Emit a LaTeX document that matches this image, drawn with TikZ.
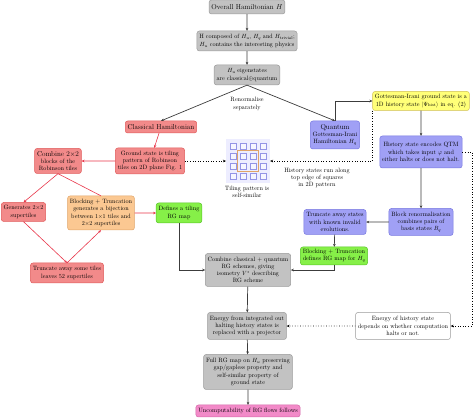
\documentclass[tikz,border=0pt]{standalone}
\usetikzlibrary{arrows.meta,positioning,calc}
\definecolor{gfill}{HTML}{C2C2C2}\definecolor{gdraw}{HTML}{9A9A9A}
\definecolor{rfill}{HTML}{F28A8A}\definecolor{rdraw}{HTML}{E05A5A}
\definecolor{bfill}{HTML}{A0A0F5}\definecolor{bdraw}{HTML}{7878E0}
\definecolor{yfill}{HTML}{FFFF78}\definecolor{ydraw}{HTML}{D0C050}
\definecolor{ofill}{HTML}{FBC892}\definecolor{odraw}{HTML}{E0A468}
\definecolor{lfill}{HTML}{86F048}\definecolor{ldraw}{HTML}{58C428}
\definecolor{pfill}{HTML}{F28AC8}\definecolor{pdraw}{HTML}{D468A8}
\definecolor{rline}{HTML}{E8364A}
\definecolor{dline}{HTML}{3C3C3C}
\tikzset{
  box/.style={rounded corners=2.5pt, align=center, inner xsep=4pt, inner ysep=2pt, line width=0.5pt, font=\fontsize{10.3}{12.1}\selectfont},
  graybox/.style={box, fill=gfill, draw=gdraw},
  redbox/.style={box, fill=rfill, draw=rdraw},
  bluebox/.style={box, fill=bfill, draw=bdraw},
  yellowbox/.style={box, fill=yfill, draw=ydraw},
  orangebox/.style={box, fill=ofill, draw=odraw},
  greenbox/.style={box, fill=lfill, draw=ldraw},
  pinkbox/.style={box, fill=pfill, draw=pdraw},
  whitebox/.style={box, fill=white, draw=gdraw},
  plain/.style={align=center, inner sep=1pt, font=\fontsize{10.3}{12.1}\selectfont},
  h/.style={minimum height=#1/0.6*1pt},
  darr/.style={draw=dline, line width=0.7pt, -{Stealth[length=3pt,width=2.6pt]}},
  rarr/.style={draw=rline, line width=0.6pt, -{Stealth[length=3pt,width=2.6pt]}},
  rln/.style={draw=rline, line width=0.6pt},
  dotarr/.style={draw=black, line width=0.6pt, dotted, -{Stealth[length=3pt,width=2.6pt]}},
}
\newcommand{\bigtxt}{\fontsize{11.9}{13}\selectfont}
\begin{document}
\begin{tikzpicture}[x=1.666667pt, y=-1.666667pt, scale=0.6, every node/.append style={transform shape}]
\useasboundingbox (0,0) rectangle (474,418);
% main column
\node[graybox, h=14, font=\bigtxt] (top) at (247,7) {Overall Hamiltonian $H$};
\node[graybox, h=20] (comp) at (247,41) {H composed of $H_u$, $H_q$ and $H_{\mathrm{trivial}}$;\\$H_u$ contains the interesting physics};
\node[graybox, h=20] (eig) at (247,75) {$H_u$ eigenstates\\are classical$\oplus$quantum};
\node[plain] (renorm) at (247,104) {Renormalise\\separately};
\node[redbox, h=12, font=\bigtxt] (classical) at (161,127) {Classical Hamiltonian};
\node[bluebox, h=28] (quantum) at (335,135) {{\bigtxt Quantum}\\Gottesman-Irani\\Hamiltonian $H_q$};
\node[yellowbox, h=19] (yellow) at (421,101) {Gottesman-Irani ground state is a\\1D history state $|\Psi_{\mathrm{hist}}\rangle$ in eq. (2)};
\node[bluebox, h=32] (hist) at (421,152) {History state encodes QTM\\which takes input $\varphi$ and\\either halts or does not halt.};
\node[bluebox, h=27] (block) at (421,222) {Block renormalisation\\combines pairs of\\basis states $B_q$};
\node[bluebox, h=25] (trunc) at (335,222) {Truncate away states\\with known invalid\\evolutions.};
\node[greenbox, h=18] (gq) at (334,256) {Blocking + Truncation\\defines RG map for $H_q$};
\node[graybox, h=33] (combine) at (248,270) {Combine classical + quantum\\RG schemes, giving\\isometry $V^*$ describing\\RG scheme};
\node[graybox, h=27] (energy) at (247,326) {Energy from integrated out\\halting history states is\\replaced with a projector};
\node[graybox, h=35] (full) at (248,372) {Full RG map on $H_u$ preserving\\gap/gapless property and\\self-similar property of\\ground state};
\node[pinkbox, h=12] (uncomp) at (248,411) {Uncomputability of RG flows follows};
\node[whitebox, h=27] (ehist) at (403,326) {Energy of history state\\depends on whether computation\\halts or not.};
% classical side
\node[redbox, h=26] (ground) at (150,161) {Ground state is tiling\\pattern of Robinson\\tiles on 2D plane Fig. 1};
\node[redbox, h=25] (comb22) at (58,161) {{\bigtxt Combine $2{\times}2$}\\blocks of the\\Robinson tiles};
\node[redbox, h=19] (gen) at (23.5,212) {Generates $2{\times}2$\\supertiles};
\node[orangebox, h=34] (orange) at (101,213) {Blocking + Truncation\\generates a bijection\\between $1{\times}1$ tiles and\\$2{\times}2$ supertiles};
\node[greenbox, h=20] (tilemap) at (179,213) {Defines a tiling\\RG map};
\node[redbox, h=20] (trunc52) at (67,273) {Truncate away some tiles\\leaves 52 supertiles};
% tiling picture
\node[inner sep=0pt, minimum width=44/0.6*1pt, minimum height=44/0.6*1pt, fill=blue!7] (tiling) at (248,161) {};
\foreach \i in {0,1,2,3}{\foreach \j in {0,1,2,3}{
  \draw[draw=bdraw!80, line width=0.6pt, fill=blue!4] ($(tiling.center)+(-18+10*\i,-18+10*\j)$) rectangle ++(6,6);}}
\draw[draw=odraw, line width=0.6pt] ($(tiling.center)+(-10.5,-10.5)$) rectangle ++(21,21);
\node[plain] (tiltext) at (247,192) {Tiling pattern is\\self-similar};
\node[plain] (histtext) at (317,178) {History states run along\\top edge of squares\\in 2D pattern};
\coordinate (rc1) at (472,152);
\coordinate (rc2) at (472,326);
% dark connectors
\draw[darr] (top) -- (comp);
\draw[darr] (comp) -- (eig);
\draw[darr] (eig.south) -- (classical.north);
\draw[darr] (eig.south) -- (quantum.north);
\draw[darr] (quantum.north) |- (yellow.west);
\draw[darr] (yellow) -- (hist);
\draw[darr] (hist) -- (block);
\draw[darr] (block) -- (trunc);
\draw[darr] (trunc) -- (gq);
\draw[darr] (gq.south) |- (combine.east);
\draw[darr] (tilemap.south) |- (combine.west);
\draw[darr] (combine) -- (energy);
\draw[darr] (energy) -- (full);
\draw[darr] (full) -- (uncomp);
% dotted connectors
\draw[dotarr] (ehist) -- (energy);
\draw[dotarr] (hist.east) -- (rc1) -- (rc2) -- (ehist.east);
\draw[dotarr] (yellow.south west) |- (tiling.east);
\draw[dotarr] (ground.east) -- (tiling.west);
% red connectors
\draw[rarr] (classical) -- (ground);
\draw[rarr] (ground) -- (comb22);
\draw[rarr] (comb22.south) -- (gen.north);
\draw[rln] (orange.north) -- (comb22.south);
\draw[rarr] (gen.south) -- (trunc52.north);
\draw[rarr] (trunc52.north) -- (orange.south);
\draw[rarr] (orange) -- (tilemap);
\end{tikzpicture}
\end{document}
